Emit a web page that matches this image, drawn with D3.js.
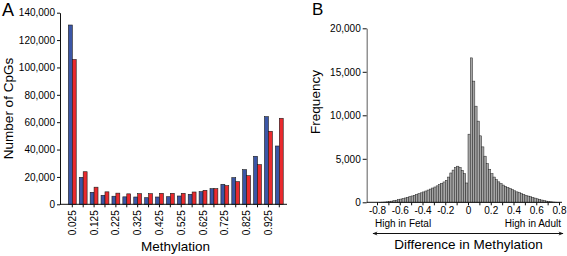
<!DOCTYPE html>
<html><head><meta charset="utf-8">
<script src="https://cdn.jsdelivr.net/npm/d3@7"></script>
<style>
html,body{margin:0;padding:0;background:#fff;}
svg{display:block;font-family:"Liberation Sans",Arial,Helvetica,sans-serif;}
</style></head>
<body>
<svg id="chart" width="567" height="256"></svg>
<script>
// ---------- Panel A data ----------
const methCategories = ["0.025","0.075","0.125","0.175","0.225","0.275","0.325","0.375","0.425","0.475",
  "0.525","0.575","0.625","0.675","0.725","0.775","0.825","0.875","0.925","0.975"];
const labeledCategories = ["0.025","0.125","0.225","0.325","0.425","0.525","0.625","0.725","0.825","0.925"];
const blueCounts = [131000,19700,8770,6580,5900,5450,5330,4820,5330,5550,
  6070,7300,9210,11400,14620,19440,25290,35080,64020,42600];
const redCounts = [105800,23800,12500,9100,8150,7640,7750,7750,8040,8040,
  8040,8990,10230,11400,13600,16520,20900,28940,53350,62850];
const yTicksA = [0,20000,40000,60000,80000,100000,120000,140000];

// ---------- Panel B data ----------
const binStarts = [-0.80,-0.78,-0.76,-0.74,-0.72,-0.70,-0.68,-0.66,-0.64,-0.62,
  -0.60,-0.58,-0.56,-0.54,-0.52,-0.50,-0.48,-0.46,-0.44,-0.42,
  -0.40,-0.38,-0.36,-0.34,-0.32,-0.30,-0.28,-0.26,-0.24,-0.22,
  -0.20,-0.18,-0.16,-0.14,-0.12,-0.10,-0.08,-0.06,-0.04,-0.02,
  0.00,0.02,0.04,0.06,0.08,0.10,0.12,0.14,0.16,0.18,
  0.20,0.22,0.24,0.26,0.28,0.30,0.32,0.34,0.36,0.38,
  0.40,0.42,0.44,0.46,0.48,0.50,0.52,0.54,0.56,0.58,
  0.60,0.62,0.64,0.66,0.68,0.70,0.72,0.74,0.76,0.78];
const binWidth = 0.02;
const freqCounts = [0,5,15,30,55,90,130,180,240,300,
  370,430,500,570,650,730,810,900,990,1090,
  1190,1300,1410,1520,1640,1760,1890,2030,2180,2340,
  2530,2900,3370,3700,4000,4150,4000,3680,3300,2220,
  7830,16600,13930,11050,9330,7640,6370,5300,4450,3800,
  3300,2900,2600,2350,2150,1980,1830,1700,1580,1450,
  1320,1200,1100,1000,900,800,720,640,560,480,
  400,330,260,200,140,100,60,30,15,5];
const yTicksB = [0,5000,10000,15000,20000];
const xTicksB = [-0.8,-0.7,-0.6,-0.5,-0.4,-0.3,-0.2,-0.1,0,0.1,0.2,0.3,0.4,0.5,0.6,0.7,0.8];
const xLabelsB = [-0.8,-0.6,-0.4,-0.2,0,0.2,0.4,0.6,0.8];

const svg = d3.select("#chart");
const fmt = d3.format(",");

// ================= Panel A =================
const gA = svg.append("g");
const xA = d3.scaleBand().domain(methCategories).range([66.85, 284.75]).paddingInner(0.28).paddingOuter(0.14);
const xSub = d3.scaleBand().domain(["blue","red"]).range([0, xA.bandwidth()]);
const yA = d3.scaleLinear().domain([0,140000]).range([204.3, 12.7]);

const groups = gA.selectAll("g.pair").data(methCategories).join("g")
  .attr("transform", d => `translate(${xA(d)},0)`);
groups.append("rect")
  .attr("x", xSub("blue")).attr("width", xSub.bandwidth())
  .attr("y", (d,i) => yA(blueCounts[i])).attr("height", (d,i) => yA(0) - yA(blueCounts[i]))
  .attr("fill", "#3b56a6").attr("stroke", "#1a1a1a").attr("stroke-width", 0.6);
groups.append("rect")
  .attr("x", xSub("red")).attr("width", xSub.bandwidth())
  .attr("y", (d,i) => yA(redCounts[i])).attr("height", (d,i) => yA(0) - yA(redCounts[i]))
  .attr("fill", "#ea2a2e").attr("stroke", "#1a1a1a").attr("stroke-width", 0.6);

const yAxisA = gA.append("g").attr("transform","translate(60,0)")
  .call(d3.axisLeft(yA).tickValues(yTicksA).tickFormat(fmt).tickSize(3).tickSizeOuter(0).tickPadding(2));
yAxisA.attr("font-family", null);
yAxisA.selectAll("text").attr("font-size", 10).attr("fill","#000");
yAxisA.selectAll("line,path").attr("stroke","#111");

const xAxisA = gA.append("g").attr("transform", `translate(0,${yA(0)})`)
  .call(d3.axisBottom(xA).tickSize(3).tickSizeOuter(0)
    .tickFormat(d => labeledCategories.includes(d) ? d : ""));
xAxisA.select(".domain").remove();
xAxisA.attr("font-family", null);
xAxisA.selectAll("line").attr("stroke","#111");
xAxisA.selectAll("text").attr("font-size", 10).attr("fill","#000")
  .attr("transform","rotate(-90)").attr("text-anchor","end")
  .attr("x", -6).attr("y", 0).attr("dy","0.35em");
gA.append("line").attr("x1",60).attr("x2",287).attr("y1",yA(0)).attr("y2",yA(0)).attr("stroke","#111");

gA.append("text").attr("x",2).attr("y",15.5).attr("font-size",18).text("A");
gA.append("text").attr("transform","translate(12.7,108.5) rotate(-90)").attr("text-anchor","middle")
  .attr("font-size",13.5).text("Number of CpGs");
gA.append("text").attr("x",175.5).attr("y",251.4).attr("text-anchor","middle")
  .attr("font-size",13.5).text("Methylation");

// ================= Panel B =================
const gB = svg.append("g");
const xB = d3.scaleLinear().domain([-0.8,0.8]).range([377,559]);
const yB = d3.scaleLinear().domain([0,20000]).range([202.3,28.3]);

gB.selectAll("rect.bin").data(binStarts).join("rect")
  .attr("x", d => xB(d)).attr("width", d => xB(d + binWidth) - xB(d))
  .attr("y", (d,i) => yB(freqCounts[i])).attr("height", (d,i) => yB(0) - yB(freqCounts[i]))
  .attr("fill", "#a5a5a5").attr("stroke", "#222").attr("stroke-width", 0.5);

const yAxisB = gB.append("g").attr("transform","translate(366.7,0)")
  .call(d3.axisLeft(yB).tickValues(yTicksB).tickFormat(fmt).tickSize(4).tickSizeOuter(0).tickPadding(2));
yAxisB.attr("font-family", null);
yAxisB.selectAll("text").attr("font-size", 10).attr("fill","#000");
yAxisB.selectAll("line").attr("stroke","#111");
yAxisB.select(".domain").attr("stroke","#777").attr("stroke-width",1.2);

const xAxisB = gB.append("g").attr("transform", `translate(0,${yB(0)})`)
  .call(d3.axisBottom(xB).tickValues(xTicksB).tickSize(3).tickSizeOuter(0).tickPadding(2)
    .tickFormat(v => xLabelsB.some(l => Math.abs(l - v) < 1e-9) ? String(Math.round(v*10)/10) : ""));
xAxisB.select(".domain").remove();
xAxisB.attr("font-family", null);
xAxisB.selectAll("line").attr("stroke","#111");
xAxisB.selectAll("text").attr("font-size", 10).attr("fill","#000");
gB.append("line").attr("x1",366.7).attr("x2",562).attr("y1",yB(0)).attr("y2",yB(0)).attr("stroke","#111");

gB.append("text").attr("x",312).attr("y",15).attr("font-size",17).text("B");
gB.append("text").attr("transform","translate(319.5,102) rotate(-90)").attr("text-anchor","middle")
  .attr("font-size",13.5).text("Frequency");
gB.append("text").attr("x",375).attr("y",227).attr("font-size",10).text("High in Fetal");
gB.append("text").attr("x",561).attr("y",227).attr("text-anchor","end").attr("font-size",10).text("High in Adult");

const defs = svg.append("defs");
defs.append("marker").attr("id","ah").attr("viewBox","0 0 10 10").attr("refX",9).attr("refY",5)
  .attr("markerWidth",8).attr("markerHeight",5).attr("orient","auto-start-reverse")
  .append("path").attr("d","M0,1 L10,5 L0,9 L3,5 Z").attr("fill","#111");
gB.append("line").attr("x1",373).attr("x2",563).attr("y1",233.5).attr("y2",233.5)
  .attr("stroke","#111").attr("stroke-width",1)
  .attr("marker-start","url(#ah)").attr("marker-end","url(#ah)");
gB.append("text").attr("x",468.5).attr("y",249.3).attr("text-anchor","middle")
  .attr("font-size",13.5).text("Difference in Methylation");
</script>
</body></html>
